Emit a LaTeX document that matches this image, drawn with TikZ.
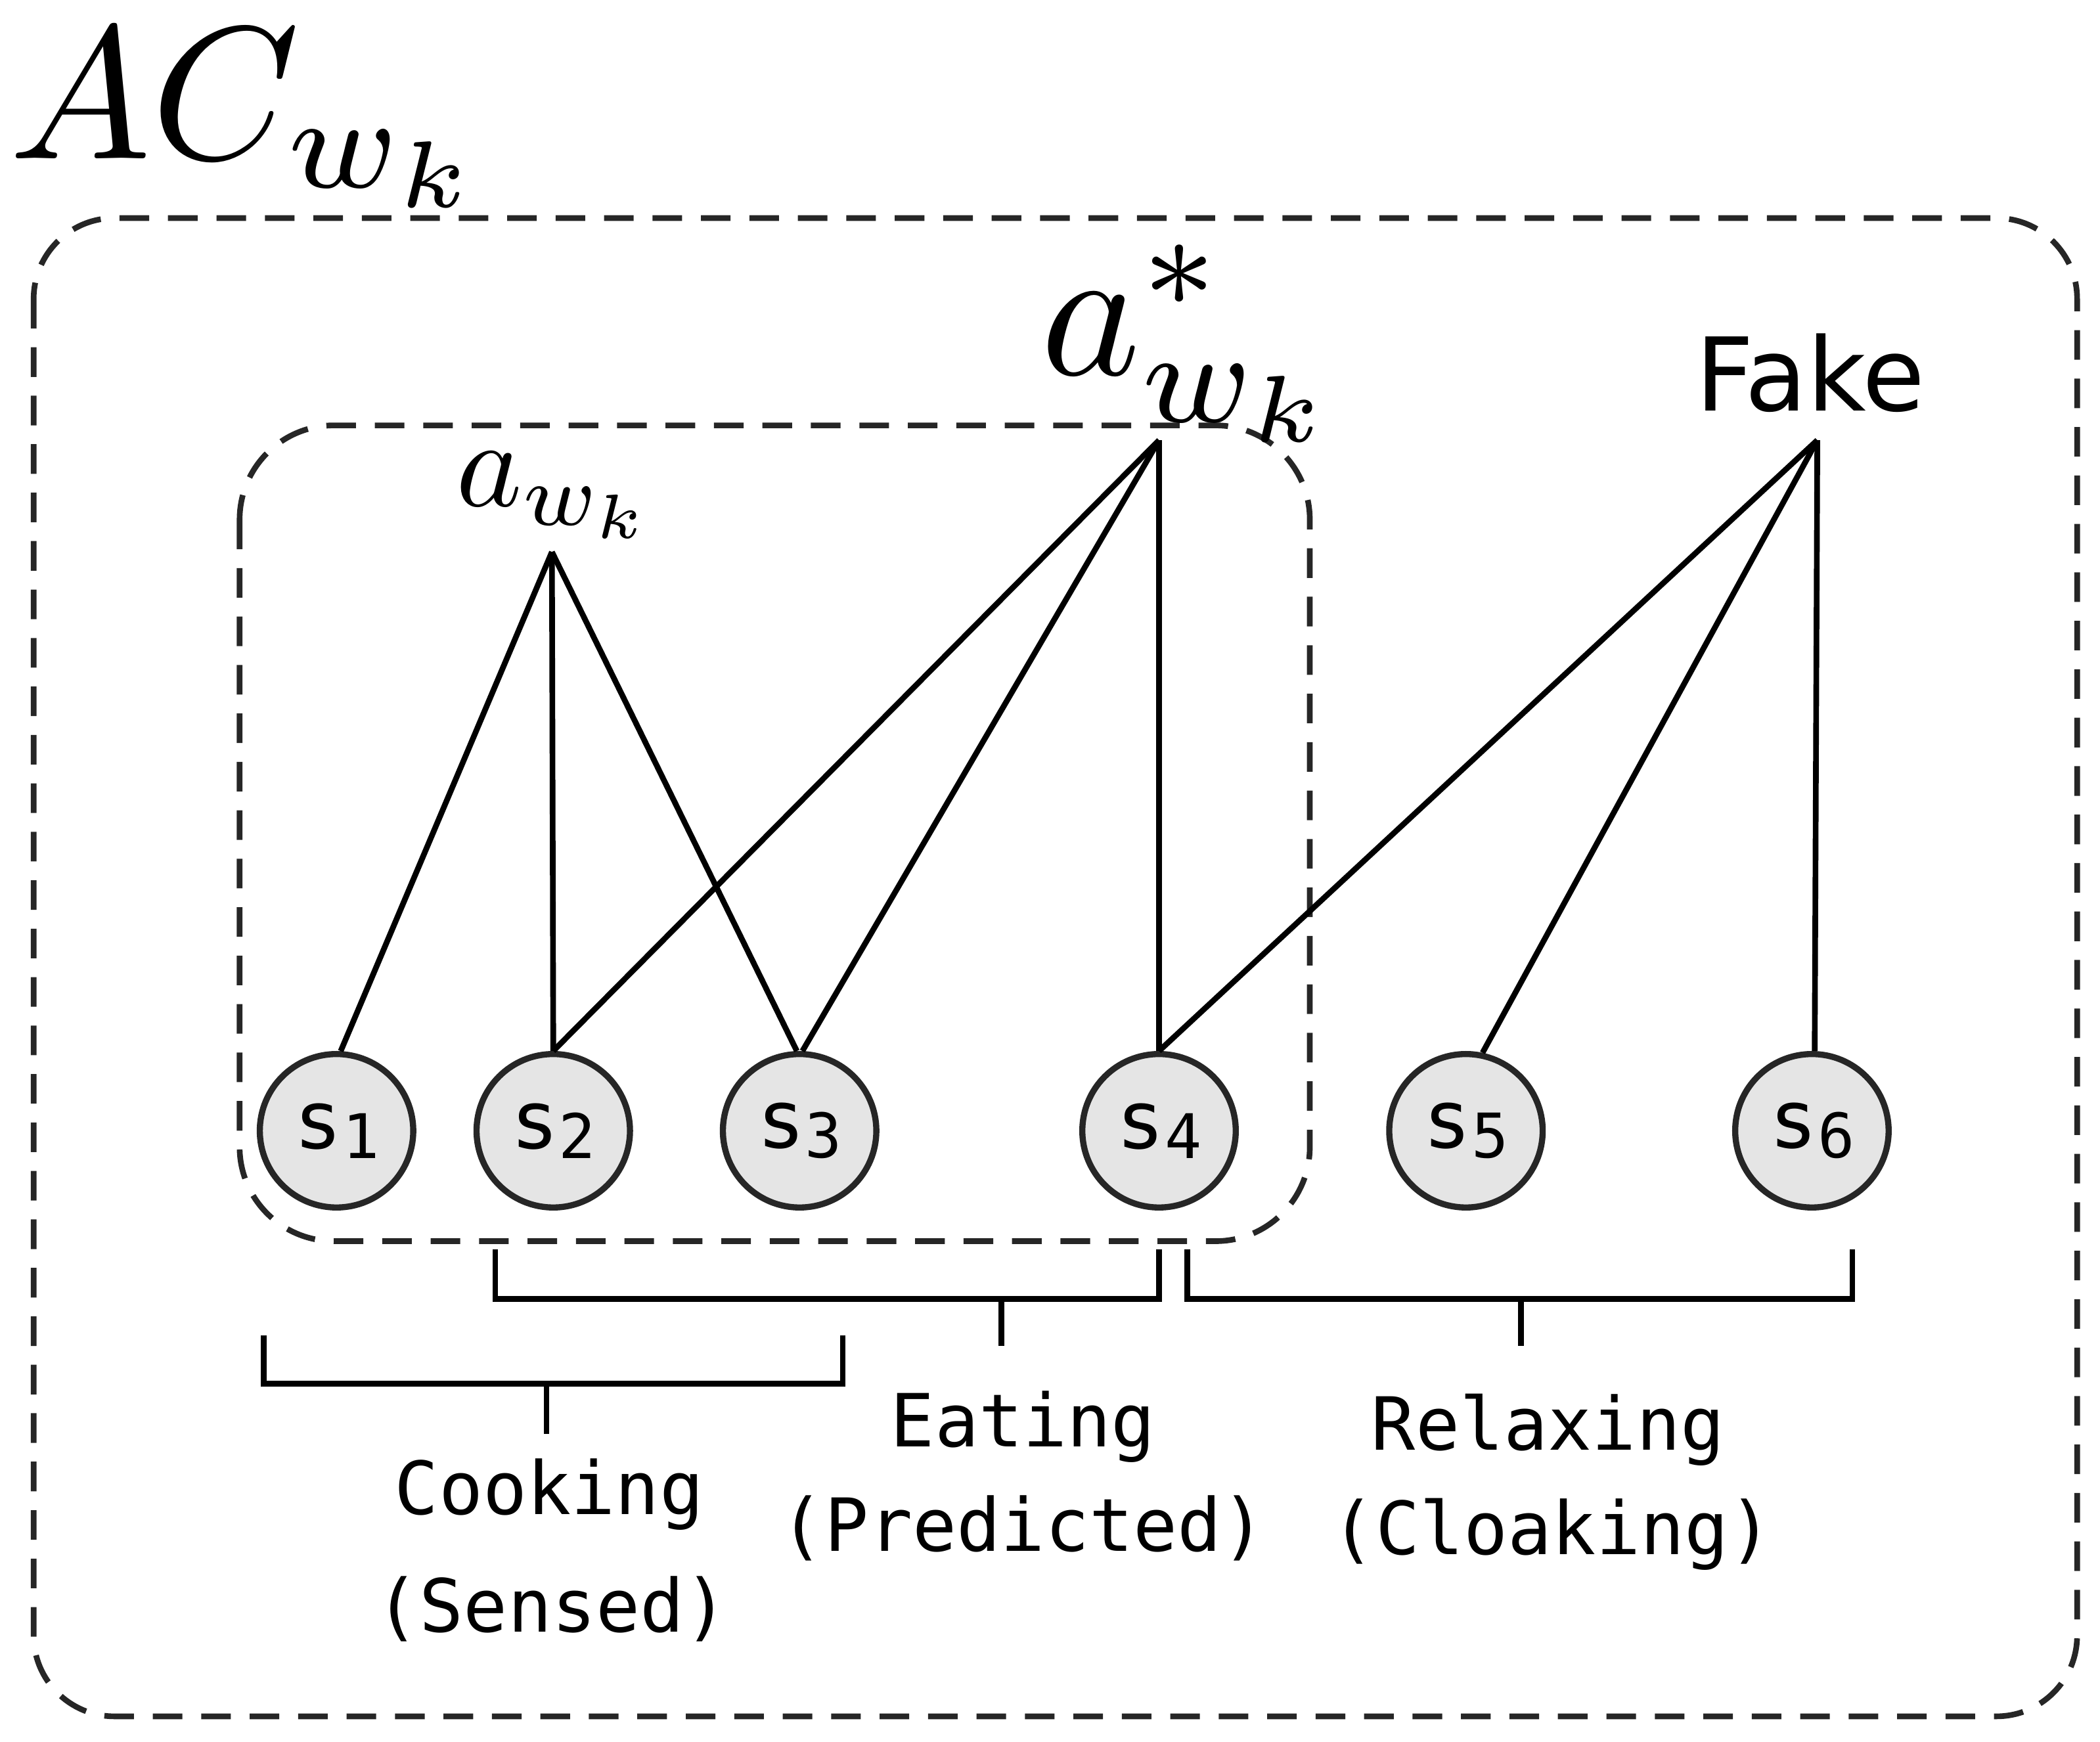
\documentclass[tikz,border=0pt]{standalone}
\usepackage{fontspec}
\usepackage{graphicx}
\newfontfamily\mono{DejaVu Sans Mono}
\newfontfamily\dsans{DejaVu Sans}
\begin{document}
\begin{tikzpicture}[x=0.02cm,y=-0.02cm,
  ln/.style={line width=2.4pt,black},
  dsh/.style={line width=2.4pt,draw=black!85,dash pattern=on 0.44cm off 0.28cm},
  st/.style={circle,draw=black!85,fill=black!10,line width=2.6pt,minimum size=2.28cm,inner sep=0pt,font=\mono\fontsize{34}{38}\selectfont},
  lbl/.style={font=\mono\fontsize{31}{36}\selectfont,inner sep=0pt}]
\useasboundingbox (0,0) rectangle (1560,1294);
\draw[dsh,rounded corners=1.2cm] (25,162) rectangle (1543,1275);
\draw[dsh,rounded corners=1.4cm] (178,316) rectangle (973,922);
\foreach \n/\x in {1/250,2/411,3/594,4/861,5/1089,6/1346}
  \node[st] (s\n) at (\x,840) {s\raisebox{-0.12em}{\fontsize{26}{26}\selectfont\n}};
\node[inner sep=0pt] (ac) at (185,88) {\scalebox{8}{$AC_{w_k}$}};
\coordinate (a) at (410,410);
\node[inner sep=0pt] (al) at (413,368) {\scalebox{5.3}{$a_{w_k}$}};
\coordinate (as) at (861,327);
\node[inner sep=0pt] (asl) at (885,255) {\scalebox{8}{$a^*_{w_k}$}};
\coordinate (f) at (1350,327);
\node[font=\dsans\fontsize{43}{43}\selectfont,inner sep=0pt] (fl) at (1345,277) {Fake};
\draw[ln] (a) -- (s1.87); \draw[ln] (a) -- (s2.90); \draw[ln] (a) -- (s3.92);
\draw[ln] (as) -- (s2.90); \draw[ln] (as) -- (s3.88); \draw[ln] (as) -- (s4.90);
\draw[ln] (f) -- (s4.90); \draw[ln] (f) -- (s5.78); \draw[ln] (f) -- (s6.88);
\coordinate (e1) at (368,928); \coordinate (e2) at (861,928);
\draw[ln] (e1) -- (368,965) -- (861,965) -- (e2);
\coordinate (et) at (744,1000); \draw[ln] (744,965) -- (et);
\coordinate (r1) at (882,928); \coordinate (r2) at (1376,928);
\draw[ln] (r1) -- (882,965) -- (1376,965) -- (r2);
\coordinate (rt) at (1130,1000); \draw[ln] (1130,965) -- (rt);
\coordinate (c1) at (196,992); \coordinate (c2) at (626,992);
\draw[ln] (c1) -- (196,1028) -- (626,1028) -- (c2);
\coordinate (ct) at (406,1065); \draw[ln] (406,1028) -- (ct);
\node[lbl] (t1) at (408,1110) {Cooking};
\node[lbl] (t2) at (410,1195) {(Sensed)};
\node[lbl] (t3) at (760,1060) {Eating};
\node[lbl] (t4) at (760,1135) {(Predicted)};
\node[lbl] (t5) at (1150,1062) {Relaxing};
\node[lbl] (t6) at (1153,1140) {(Cloaking)};
\end{tikzpicture}
\end{document}
